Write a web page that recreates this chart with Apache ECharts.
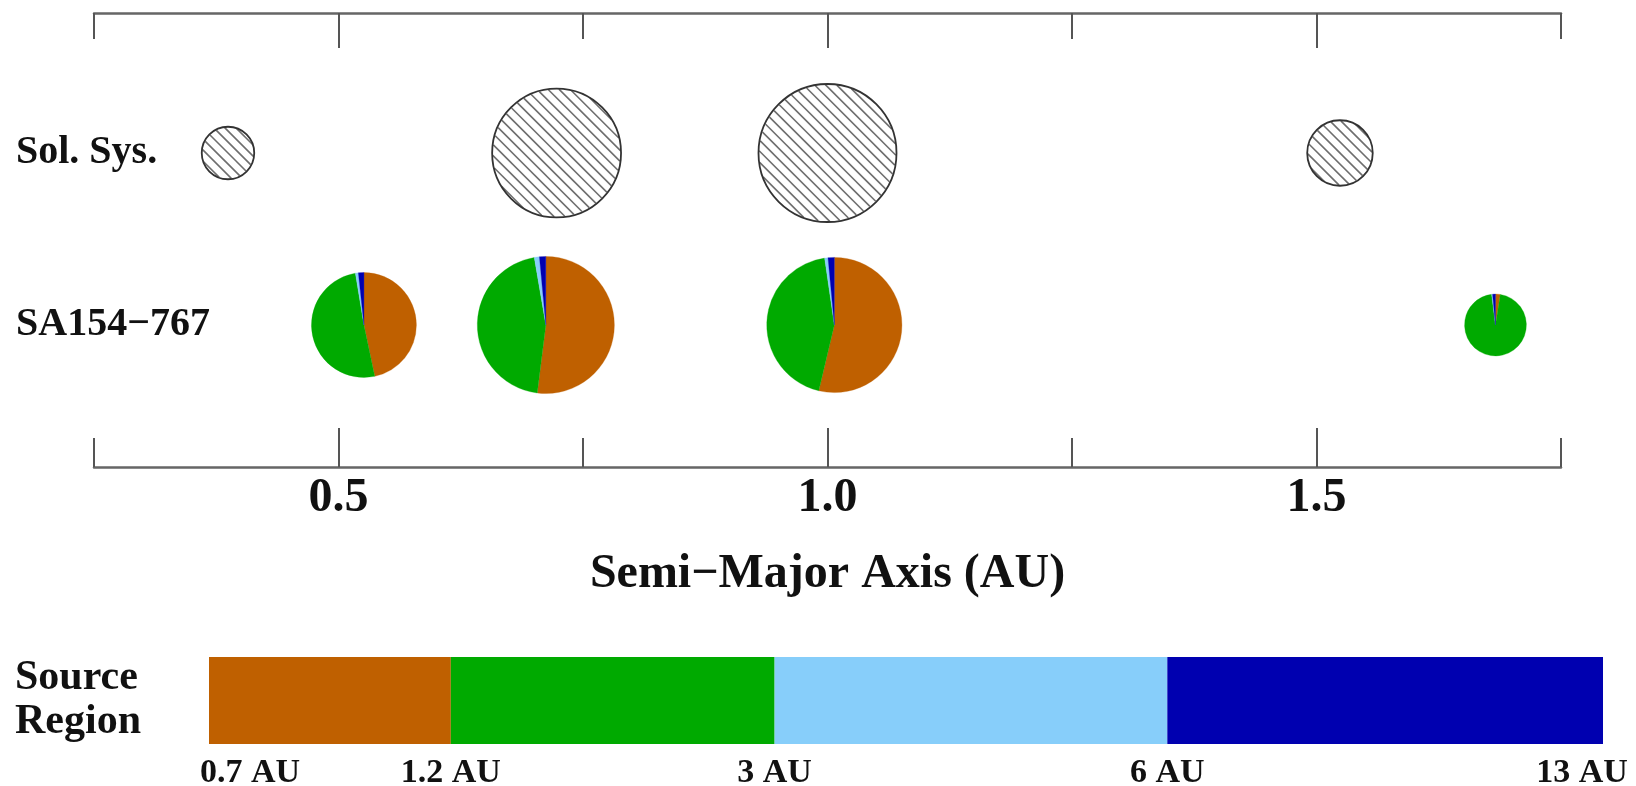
<!DOCTYPE html>
<html>
<head>
<meta charset="utf-8">
<script src="https://cdn.jsdelivr.net/npm/echarts@6/dist/echarts.min.js"></script>
<style>
html,body{margin:0;padding:0;background:#fff;}
#chart{width:1636px;height:786px;}
</style>
</head>
<body>
<div id="chart"></div>
<script>
// ---------- data ----------
const rowLabels = ['SA154\u2212767', 'Sol. Sys.'];           // bottom row, top row
const solarPlanets = ['Mercury', 'Venus', 'Earth', 'Mars'];
const solarSemiMajor = [0.387, 0.723, 1.000, 1.524];          // AU
const solarMass = [0.055, 0.815, 1.000, 0.107];               // Earth masses
const simSemiMajor = [0.526, 0.712, 1.007, 1.683];            // AU
const simMass = [0.44, 0.98, 0.94, 0.09];                     // Earth masses
// fraction of material from each source region
const fracFrom07to12 = [0.467, 0.520, 0.537, 0.025];
const fracFrom12to3  = [0.507, 0.453, 0.440, 0.955];
const fracFrom3to6   = [0.009, 0.012, 0.008, 0.005];
const fracFrom6to13  = [0.017, 0.015, 0.015, 0.015];
const axisMin = 0.25, axisMax = 1.75;
const majorTickValues = [0.5, 1.0, 1.5];
const minorTickValues = [0.25, 0.75, 1.25, 1.75];
const regionBoundaryLabels = ['0.7 AU', '1.2 AU', '3 AU', '6 AU', '13 AU'];
const regionBarWidths = [242, 324, 393, 436];                 // relative widths of the colour key segments
const regionColors = ['#BF6000', '#00AA00', '#87CEFA', '#0000B0'];

// ---------- helpers ----------
const EARTH_PX = 69;                 // drawn radius of a 1 Earth-mass body
const FONT = "'Liberation Serif', 'Times New Roman', serif";
const regionCum = [0];
regionBarWidths.forEach(w => regionCum.push(regionCum[regionCum.length - 1] + w));

function hatchedCircle(params, api) {
  const p = api.coord([api.value(0), api.value(1)]);
  const r = EARTH_PX * Math.cbrt(api.value(2));
  const children = [{
    type: 'circle', shape: { cx: p[0], cy: p[1], r: r }, style: { fill: '#fff' }
  }];
  const s = 7.8, q = Math.SQRT1_2;
  const kmax = Math.floor((r - 1) / s);
  for (let k = -kmax; k <= kmax; k++) {
    const d = k * s;
    const h = Math.sqrt(Math.max(0, r * r - d * d)) - 0.8;
    if (h <= 0) continue;
    const mx = p[0] + d * q, my = p[1] - d * q;
    children.push({
      type: 'line',
      shape: { x1: mx - h * q, y1: my - h * q, x2: mx + h * q, y2: my + h * q },
      style: { stroke: '#6e6e6e', lineWidth: 1.6 }
    });
  }
  children.push({
    type: 'circle', shape: { cx: p[0], cy: p[1], r: r },
    style: { fill: 'none', stroke: '#333', lineWidth: 1.8 }
  });
  return { type: 'group', children: children };
}

function pieGlyph(params, api) {
  const p = api.coord([api.value(0), api.value(1)]);
  const r = EARTH_PX * Math.cbrt(api.value(2));
  const fr = [api.value(3), api.value(4), api.value(5), api.value(6)];
  let start = -Math.PI / 2;
  const children = [];
  fr.forEach((f, i) => {
    const end = start + f * Math.PI * 2;
    children.push({
      type: 'sector',
      shape: { cx: p[0], cy: p[1], r: r, r0: 0, startAngle: start, endAngle: end, clockwise: true },
      style: { fill: regionColors[i], stroke: regionColors[i], lineWidth: 0.3 }
    });
    start = end;
  });
  return { type: 'group', children: children };
}

const baseX = {
  gridIndex: 0, type: 'value', min: axisMin, max: axisMax,
  splitLine: { show: false }, axisLabel: { show: false }
};
const lineStyle = { color: '#666', width: 2.5 };
const tickStyle = { color: '#555', width: 2 };

const option = {
  animation: false,
  backgroundColor: '#fff',
  grid: [
    { left: 94, width: 1467, top: 67, height: 344, containLabel: false, outerBoundsMode: 'none' },
    { left: 209, width: 1394, top: 657, height: 87, containLabel: false, outerBoundsMode: 'none' }
  ],
  xAxis: [
    Object.assign({}, baseX, {
      position: 'top', offset: 54,
      axisLine: { show: true, lineStyle: lineStyle },
      axisTick: { show: true, inside: true, length: 26, customValues: minorTickValues, lineStyle: tickStyle }
    }),
    Object.assign({}, baseX, {
      position: 'top', offset: 54,
      axisLine: { show: false },
      axisTick: { show: true, inside: true, length: 35, customValues: majorTickValues, lineStyle: tickStyle }
    }),
    Object.assign({}, baseX, {
      position: 'bottom', offset: 56,
      axisLine: { show: true, lineStyle: lineStyle },
      axisTick: { show: true, inside: true, length: 29, customValues: minorTickValues, lineStyle: tickStyle },
      name: 'Semi\u2212Major Axis (AU)', nameLocation: 'middle', nameGap: 84,
      nameTextStyle: { fontFamily: FONT, fontWeight: 'bold', fontSize: 48, color: '#111' }
    }),
    Object.assign({}, baseX, {
      position: 'bottom', offset: 56,
      axisLine: { show: false },
      axisTick: { show: true, inside: true, length: 39, customValues: majorTickValues, lineStyle: tickStyle },
      axisLabel: {
        show: true, customValues: majorTickValues, margin: 8,
        formatter: v => v.toFixed(1),
        fontFamily: FONT, fontWeight: 'bold', fontSize: 48, color: '#111'
      }
    }),
    {
      gridIndex: 1, type: 'value', min: 0, max: regionCum[regionCum.length - 1],
      position: 'bottom',
      splitLine: { show: false }, axisLine: { show: false }, axisTick: { show: false },
      axisLabel: {
        show: true, customValues: regionCum, margin: 12,
        fontFamily: FONT, fontWeight: 'bold', fontSize: 34, color: '#111',
        formatter: v => {
          const i = regionCum.indexOf(v);
          if (i === 0) return '{first|' + regionBoundaryLabels[i] + '}';
          if (i === regionCum.length - 1) return '{last|' + regionBoundaryLabels[i] + '}';
          return regionBoundaryLabels[i];
        },
        rich: {
          first: { fontFamily: FONT, fontWeight: 'bold', fontSize: 34, color: '#111', padding: [0, 0, 0, 82] },
          last: { fontFamily: FONT, fontWeight: 'bold', fontSize: 34, color: '#111', padding: [0, 42, 0, 0] }
        }
      }
    }
  ],
  yAxis: [
    {
      gridIndex: 0, type: 'category', data: rowLabels,
      axisLine: { show: false }, axisTick: { show: false }, splitLine: { show: false },
      axisLabel: { align: 'left', margin: 78, fontFamily: FONT, fontWeight: 'bold', fontSize: 40, color: '#111' }
    },
    {
      gridIndex: 1, type: 'category', data: ['Source\nRegion'],
      axisLine: { show: false }, axisTick: { show: false }, splitLine: { show: false },
      axisLabel: { align: 'left', margin: 194, fontFamily: FONT, fontWeight: 'bold', fontSize: 42, lineHeight: 44, color: '#111' }
    }
  ],
  series: [
    {
      name: 'Solar System', type: 'custom', coordinateSystem: 'cartesian2d',
      xAxisIndex: 0, yAxisIndex: 0,
      renderItem: hatchedCircle,
      encode: { x: 0, y: 1 },
      data: solarSemiMajor.map((a, i) => [a, 1, solarMass[i], solarPlanets[i]])
    },
    {
      name: 'SA154\u2212767', type: 'custom', coordinateSystem: 'cartesian2d',
      xAxisIndex: 0, yAxisIndex: 0,
      renderItem: pieGlyph,
      encode: { x: 0, y: 1 },
      data: simSemiMajor.map((a, i) => [a, 0, simMass[i], fracFrom07to12[i], fracFrom12to3[i], fracFrom3to6[i], fracFrom6to13[i]])
    }
  ].concat(regionBarWidths.map((w, i) => ({
    name: regionBoundaryLabels[i] + '\u2013' + regionBoundaryLabels[i + 1],
    type: 'bar', stack: 'region', xAxisIndex: 4, yAxisIndex: 1,
    barWidth: '100%', barCategoryGap: 0,
    itemStyle: { color: regionColors[i] },
    data: [w]
  })))
};

const chart = echarts.init(document.getElementById('chart'), null, { renderer: 'canvas' });
chart.setOption(option);
</script>
</body>
</html>
